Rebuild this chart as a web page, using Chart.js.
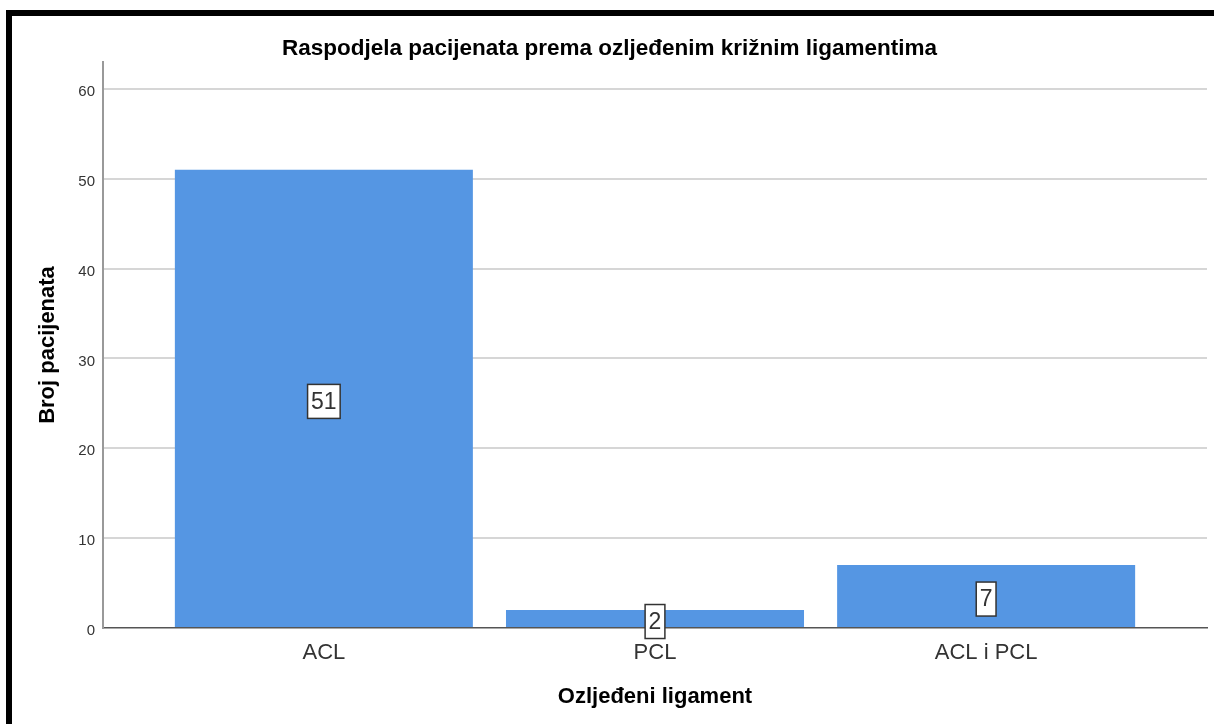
<!DOCTYPE html>
<html>
<head>
<meta charset="utf-8">
<title>Raspodjela pacijenata</title>
<script src="https://cdn.jsdelivr.net/npm/chart.js@4/dist/chart.umd.min.js"></script>
<style>
  html, body { margin: 0; padding: 0; background: #fff; overflow: hidden; }
  #okvir {
    position: absolute;
    left: 6px;
    top: 10px;
    width: 1202px;
    height: 708px;
    border-top: 6px solid #000;
    border-left: 6px solid #000;
  }
  canvas { display: block; }
</style>
</head>
<body>
<div id="okvir">
  <canvas id="grafikonLigamenti" width="1202" height="708"></canvas>
</div>
<script>
// podaci
const kategorije = ['ACL', 'PCL', 'ACL i PCL'];
const brojPacijenata = [51, 2, 7];
const yTicks = [0, 10, 20, 30, 40, 50, 60];

const bojaStupca = '#5596e3';
const tamnoSiva = '#333333';

// okvir s brojem u sredini stupca
const oznakeVrijednosti = {
  id: 'oznakeVrijednosti',
  afterDatasetsDraw(chart) {
    const ctx = chart.ctx;
    const meta = chart.getDatasetMeta(0);
    ctx.save();
    ctx.font = '23px "Liberation Sans", Arial, sans-serif';
    ctx.textAlign = 'center';
    ctx.textBaseline = 'middle';
    meta.data.forEach((bar, i) => {
      const tekst = String(brojPacijenata[i]);
      const sredina = (bar.y + bar.base) / 2 + 3;
      const w = ctx.measureText(tekst).width + 7;
      const h = 34;
      ctx.fillStyle = '#ffffff';
      ctx.fillRect(bar.x - w / 2, sredina - h / 2, w, h);
      ctx.strokeStyle = tamnoSiva;
      ctx.lineWidth = 1.5;
      ctx.strokeRect(bar.x - w / 2, sredina - h / 2, w, h);
      ctx.fillStyle = tamnoSiva;
      ctx.fillText(tekst, bar.x, sredina + 1);
    });
    ctx.restore();
  }
};

const ctx = document.getElementById('grafikonLigamenti').getContext('2d');

new Chart(ctx, {
  type: 'bar',
  data: {
    datasets: [{
      data: kategorije.map((k, i) => ({ x: i, y: brojPacijenata[i] })),
      backgroundColor: bojaStupca,
      borderWidth: 0,
      categoryPercentage: 0.9,
      barPercentage: 1
    }]
  },
  options: {
    responsive: false,
    animation: false,
    layout: { padding: { left: 0, right: 7, top: 0, bottom: 0 } },
    plugins: {
      legend: { display: false },
      tooltip: { enabled: false },
      title: {
        display: true,
        text: 'Raspodjela pacijenata prema ozljeđenim križnim ligamentima',
        color: '#000',
        font: { family: '"Liberation Sans", Arial, sans-serif', size: 22.5, weight: 'bold', lineHeight: 1 },
        padding: { top: 22, bottom: 1.5 }
      }
    },
    scales: {
      x: {
        type: 'linear',
        offset: false,
        min: -0.667,
        max: 2.667,
        afterBuildTicks: (scale) => {
          scale.ticks = kategorije.map((k, i) => ({ value: i }));
        },
        afterFit: (scale) => { scale.height = 96; },
        grid: { display: false, drawTicks: false },
        border: { display: true, color: '#555', width: 1.5 },
        ticks: {
          color: tamnoSiva,
          padding: 12,
          maxRotation: 0,
          autoSkip: false,
          font: { family: '"Liberation Sans", Arial, sans-serif', size: 22 },
          callback: (v) => kategorije[v] ?? ''
        },
        title: {
          display: true,
          text: 'Ozljeđeni ligament',
          color: '#000',
          font: { family: '"Liberation Sans", Arial, sans-serif', size: 22, weight: 'bold', lineHeight: 1.2 },
          padding: { top: 0, bottom: 14 }
        }
      },
      y: {
        min: 0,
        max: 63,
        afterBuildTicks: (scale) => {
          scale.ticks = yTicks.map(v => ({ value: v }));
        },
        afterFit: (scale) => { scale.width = 91; },
        grid: {
          drawTicks: false,
          color: (c) => c.tick && c.tick.value === 0 ? 'rgba(0,0,0,0)' : '#d6d6d6',
          lineWidth: 2
        },
        border: { display: true, color: '#999', width: 2 },
        ticks: {
          color: tamnoSiva,
          padding: 8,
          labelOffset: 3,
          font: { family: '"Liberation Sans", Arial, sans-serif', size: 15 }
        },
        title: {
          display: true,
          text: 'Broj pacijenata',
          color: '#000',
          font: { family: '"Liberation Sans", Arial, sans-serif', size: 22, weight: 'bold', lineHeight: 1.2 },
          padding: { top: 23, bottom: 0 }
        }
      }
    }
  },
  plugins: [oznakeVrijednosti]
});
</script>
</body>
</html>
